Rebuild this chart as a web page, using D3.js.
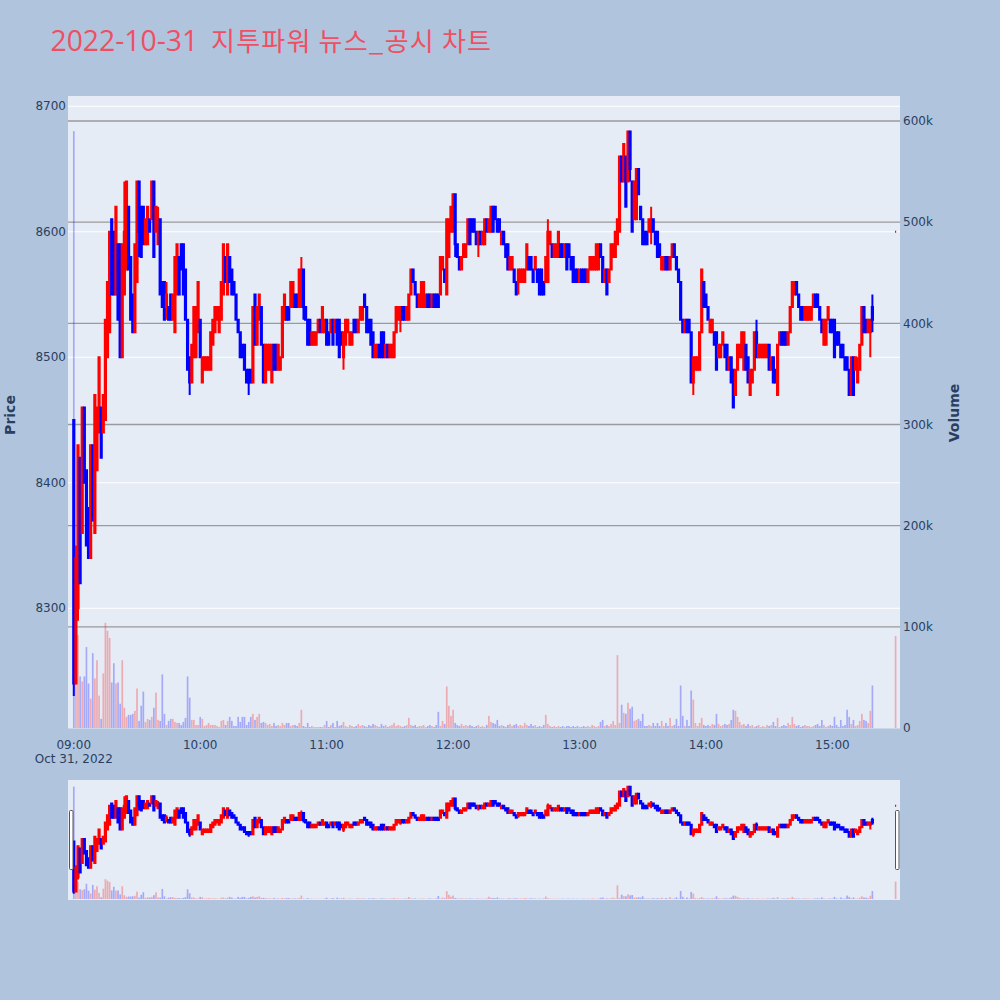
<!DOCTYPE html>
<html><head><meta charset="utf-8">
<script src="https://cdn.jsdelivr.net/npm/d3@7"></script>
<style>body{margin:0;background:#B0C4DE}svg{display:block}</style>
</head><body>
<svg id="chart" width="1000" height="1000"></svg>
<script>
// minutes after 09:00 (continuous session 09:00-15:19, closing auction 15:30)
const minuteOffsets = d3.range(380).concat([390]);
const opens = [
8450,8240,8300,8420,8360,8460,8410,8380,8340,8430,
8360,8410,8440,8460,8440,8450,8500,8520,8610,8600,
8550,8590,8590,8500,8550,8570,8620,8580,8550,8520,
8560,8640,8620,8620,8590,8590,8610,8610,8640,8600,
8590,8610,8560,8560,8540,8540,8550,8530,8520,8550,
8580,8590,8590,8570,8530,8500,8480,8500,8500,8520,
8530,8480,8490,8490,8490,8490,8510,8520,8530,8520,
8530,8550,8580,8550,8580,8570,8560,8550,8530,8520,
8510,8510,8490,8490,8490,8480,8550,8510,8530,8540,
8510,8480,8490,8490,8480,8510,8510,8490,8490,8500,
8530,8540,8540,8540,8540,8550,8550,8540,8540,8570,
8540,8530,8530,8510,8510,8510,8520,8530,8520,8520,
8530,8520,8520,8530,8520,8530,8530,8520,8500,8510,
8520,8510,8510,8530,8530,8520,8530,8530,8550,8540,
8530,8530,8520,8500,8500,8510,8520,8520,8500,8510,
8500,8500,8500,8520,8530,8530,8540,8540,8530,8530,
8550,8570,8560,8550,8540,8540,8540,8540,8550,8550,
8540,8550,8550,8550,8550,8570,8570,8550,8580,8600,
8600,8630,8590,8580,8570,8580,8580,8590,8610,8610,
8610,8600,8590,8600,8590,8590,8610,8600,8600,8620,
8620,8610,8610,8590,8600,8590,8590,8570,8570,8570,
8560,8560,8560,8560,8560,8570,8580,8580,8570,8570,
8570,8570,8570,8560,8560,8560,8590,8590,8580,8580,
8580,8590,8590,8580,8590,8590,8580,8580,8570,8570,
8560,8570,8570,8570,8560,8570,8570,8570,8570,8570,
8590,8580,8560,8570,8560,8570,8580,8580,8590,8600,
8660,8640,8660,8640,8680,8640,8610,8610,8650,8620,
8610,8600,8600,8600,8600,8610,8600,8600,8590,8570,
8570,8580,8580,8570,8580,8590,8580,8570,8560,8530,
8520,8530,8530,8520,8480,8490,8490,8490,8520,8560,
8550,8540,8520,8520,8520,8520,8500,8500,8510,8510,
8510,8490,8500,8490,8470,8490,8500,8500,8490,8510,
8500,8470,8480,8490,8520,8500,8500,8500,8500,8500,
8510,8490,8500,8490,8470,8510,8520,8520,8520,8510,
8520,8540,8550,8560,8550,8540,8540,8530,8530,8530,
8530,8540,8550,8550,8540,8530,8510,8510,8530,8530,
8530,8530,8520,8520,8510,8510,8500,8500,8490,8470,
8500,8490,8480,8490,8510,8540,8530,8520,8520,8540,
8600];
const highs = [
8450,8350,8430,8420,8460,8460,8410,8380,8430,8430,
8470,8460,8500,8460,8470,8530,8560,8600,8610,8600,
8620,8590,8590,8590,8640,8640,8620,8580,8550,8590,
8640,8640,8620,8620,8610,8620,8610,8640,8640,8620,
8620,8610,8560,8560,8560,8540,8550,8550,8580,8590,
8580,8590,8590,8570,8530,8500,8510,8540,8540,8560,
8530,8500,8500,8500,8500,8520,8530,8540,8540,8540,
8560,8590,8580,8590,8580,8570,8560,8550,8530,8520,
8510,8510,8490,8490,8490,8540,8550,8540,8550,8540,
8510,8510,8510,8510,8510,8510,8510,8510,8500,8540,
8550,8540,8540,8560,8560,8550,8550,8570,8580,8570,
8540,8530,8530,8520,8520,8520,8530,8530,8540,8530,
8530,8520,8530,8530,8530,8530,8530,8520,8520,8530,
8530,8520,8520,8530,8530,8530,8540,8540,8550,8540,
8530,8530,8520,8510,8510,8510,8520,8520,8510,8510,
8510,8510,8520,8540,8540,8540,8540,8540,8540,8550,
8570,8570,8560,8550,8550,8560,8560,8550,8550,8550,
8550,8550,8550,8550,8580,8580,8570,8610,8610,8620,
8630,8630,8590,8580,8580,8590,8590,8610,8610,8610,
8610,8600,8600,8600,8600,8610,8610,8610,8620,8620,
8620,8610,8610,8600,8600,8590,8590,8580,8580,8570,
8560,8570,8570,8570,8570,8590,8580,8580,8570,8580,
8570,8570,8570,8560,8580,8610,8600,8590,8590,8590,
8600,8590,8590,8590,8590,8590,8580,8580,8570,8570,
8570,8570,8570,8570,8570,8580,8580,8580,8590,8590,
8590,8580,8570,8570,8570,8590,8590,8600,8610,8660,
8660,8670,8660,8680,8680,8640,8640,8650,8650,8620,
8610,8600,8600,8610,8620,8610,8600,8600,8590,8580,
8580,8580,8580,8580,8590,8590,8580,8570,8560,8530,
8530,8530,8530,8520,8500,8500,8500,8520,8570,8560,
8550,8540,8530,8530,8520,8520,8510,8510,8520,8510,
8510,8500,8500,8490,8490,8510,8510,8520,8520,8510,
8500,8490,8490,8520,8530,8510,8510,8510,8510,8510,
8510,8500,8500,8490,8510,8520,8520,8520,8520,8520,
8540,8560,8560,8560,8550,8540,8540,8540,8540,8540,
8540,8550,8550,8550,8540,8530,8530,8530,8540,8530,
8530,8530,8520,8520,8510,8510,8500,8500,8490,8500,
8500,8500,8500,8510,8540,8540,8530,8530,8530,8550,
8600];
const lows = [
8230,8240,8290,8320,8360,8400,8350,8340,8340,8370,
8360,8410,8440,8420,8440,8450,8500,8520,8550,8550,
8550,8530,8500,8500,8550,8570,8570,8530,8520,8520,
8560,8580,8580,8590,8590,8590,8600,8610,8580,8600,
8590,8550,8540,8530,8530,8530,8530,8530,8520,8550,
8550,8570,8550,8530,8490,8470,8480,8500,8500,8520,
8500,8480,8490,8490,8490,8490,8510,8520,8530,8520,
8530,8550,8560,8550,8560,8550,8550,8530,8520,8500,
8500,8490,8480,8470,8480,8480,8510,8510,8530,8510,
8480,8480,8490,8490,8480,8490,8490,8490,8490,8500,
8530,8530,8530,8540,8540,8540,8540,8540,8540,8530,
8530,8510,8510,8510,8510,8510,8520,8520,8520,8520,
8510,8510,8520,8510,8520,8510,8500,8510,8490,8510,
8520,8510,8510,8520,8520,8520,8530,8530,8540,8520,
8520,8510,8500,8500,8500,8500,8500,8500,8500,8500,
8500,8500,8500,8520,8530,8520,8530,8530,8530,8530,
8550,8560,8550,8540,8540,8540,8540,8540,8540,8540,
8540,8540,8540,8540,8550,8570,8560,8550,8580,8600,
8600,8580,8580,8570,8570,8580,8580,8590,8590,8600,
8600,8590,8580,8590,8590,8590,8600,8600,8600,8600,
8610,8600,8600,8590,8590,8580,8570,8570,8570,8560,
8550,8550,8560,8560,8560,8570,8570,8570,8560,8570,
8560,8550,8550,8550,8560,8560,8590,8580,8580,8580,
8580,8580,8580,8580,8570,8580,8570,8560,8560,8560,
8560,8560,8560,8560,8560,8570,8570,8570,8570,8570,
8580,8560,8560,8550,8560,8570,8580,8580,8590,8600,
8640,8640,8620,8640,8640,8600,8610,8610,8630,8610,
8590,8590,8590,8600,8590,8600,8590,8580,8580,8570,
8570,8570,8570,8570,8580,8580,8570,8560,8530,8520,
8520,8520,8520,8480,8470,8490,8490,8490,8520,8540,
8540,8530,8520,8520,8510,8490,8500,8500,8510,8500,
8490,8490,8480,8460,8470,8490,8500,8500,8490,8490,
8480,8470,8480,8490,8500,8500,8500,8500,8500,8500,
8490,8490,8480,8480,8470,8510,8510,8510,8510,8510,
8520,8540,8550,8550,8540,8530,8530,8530,8530,8530,
8530,8540,8540,8540,8530,8520,8510,8510,8530,8520,
8520,8500,8510,8510,8500,8500,8490,8490,8470,8470,
8470,8490,8480,8490,8510,8520,8520,8520,8500,8520,
8600];
const closes = [
8240,8340,8430,8320,8460,8400,8350,8340,8430,8370,
8470,8460,8500,8420,8470,8530,8560,8600,8550,8550,
8620,8530,8500,8590,8600,8640,8570,8530,8520,8590,
8640,8600,8580,8590,8610,8620,8600,8640,8580,8620,
8610,8550,8540,8530,8550,8530,8530,8550,8580,8590,
8550,8570,8550,8530,8490,8480,8510,8540,8540,8560,
8500,8500,8500,8500,8500,8520,8530,8540,8540,8540,
8560,8590,8560,8590,8560,8550,8550,8530,8520,8500,
8500,8490,8480,8480,8480,8540,8510,8540,8550,8510,
8480,8510,8510,8510,8510,8490,8490,8510,8500,8540,
8550,8530,8530,8560,8560,8540,8540,8570,8570,8540,
8530,8510,8510,8520,8520,8520,8530,8520,8540,8530,
8510,8510,8530,8510,8530,8510,8500,8510,8520,8530,
8530,8520,8520,8520,8520,8530,8540,8540,8540,8520,
8520,8510,8500,8510,8510,8500,8500,8500,8510,8500,
8510,8510,8520,8540,8540,8540,8530,8530,8540,8550,
8570,8560,8550,8540,8550,8560,8560,8550,8540,8540,
8550,8540,8540,8540,8580,8580,8560,8610,8610,8620,
8630,8590,8580,8570,8580,8590,8590,8610,8590,8600,
8600,8590,8600,8590,8600,8610,8600,8610,8620,8600,
8610,8600,8600,8600,8590,8580,8570,8580,8580,8560,
8550,8570,8570,8570,8570,8590,8570,8570,8560,8580,
8560,8550,8550,8550,8580,8600,8600,8580,8590,8590,
8600,8580,8580,8590,8570,8580,8570,8560,8560,8560,
8570,8560,8560,8560,8570,8580,8580,8580,8590,8590,
8580,8560,8570,8550,8570,8590,8590,8600,8610,8660,
8640,8670,8620,8680,8650,8600,8640,8650,8630,8610,
8590,8590,8590,8610,8610,8600,8590,8580,8580,8580,
8580,8570,8570,8580,8590,8580,8570,8560,8530,8520,
8530,8520,8520,8480,8500,8500,8500,8520,8570,8540,
8540,8530,8530,8530,8510,8490,8510,8510,8520,8500,
8490,8500,8480,8460,8490,8510,8510,8520,8520,8490,
8480,8490,8490,8520,8500,8510,8510,8510,8510,8510,
8490,8500,8480,8480,8510,8520,8510,8510,8510,8520,
8540,8560,8560,8550,8540,8530,8530,8540,8540,8540,
8540,8550,8540,8540,8530,8520,8530,8530,8540,8520,
8520,8500,8510,8510,8500,8500,8490,8490,8470,8500,
8470,8500,8490,8510,8540,8520,8520,8530,8530,8530,
8600];
// volume in thousands of shares
const volumeK = [
590,44,92,51,46,51,80,44,29,74,
49,67,32,9,54,104,96,89,45,64,
44,45,24,67,20,11,13,13,14,17,
39,7,22,36,6,9,8,11,20,35,
8,7,53,14,3,7,9,9,6,5,
5,3,6,10,51,30,8,8,3,3,
11,9,2,3,5,3,3,3,2,1,
7,8,3,7,11,7,2,2,11,6,
11,11,3,6,11,14,8,11,14,5,
6,5,3,4,2,5,2,3,2,5,
3,5,5,2,3,3,2,5,18,2,
1,5,1,2,1,1,1,1,1,3,
7,1,3,5,1,7,2,3,6,2,
1,3,2,1,2,4,2,3,2,1,
3,2,4,3,2,1,4,2,3,1,
2,3,5,2,3,2,1,2,3,10,
3,2,3,1,2,2,3,1,2,3,
2,1,3,16,2,7,4,41,22,12,
18,5,3,2,4,2,3,2,3,2,
1,2,3,1,2,1,3,12,6,5,
4,8,2,3,2,1,3,4,2,3,
4,2,3,2,5,3,2,4,2,3,
1,2,1,3,13,4,2,1,2,1,
2,1,2,1,2,2,1,2,1,2,
1,1,2,1,2,1,3,2,1,2,
6,8,2,3,2,4,7,3,72,5,
23,15,14,25,19,21,7,8,9,7,
14,2,2,3,2,5,2,5,2,7,
2,5,2,10,2,3,9,2,42,12,
2,8,2,37,28,5,2,5,10,3,
2,3,2,4,3,14,4,2,3,4,
3,4,8,18,17,11,6,3,4,2,
4,2,3,1,2,3,1,2,1,3,
2,3,6,2,10,1,2,3,2,5,
3,11,4,2,3,1,2,3,2,2,
1,2,3,4,2,8,3,1,2,3,
2,11,3,1,8,2,3,18,11,4,
8,2,3,7,14,8,7,5,17,42,
91];
const priceTicks = [8300, 8400, 8500, 8600, 8700];
const volumeTicks = [0, 100, 200, 300, 400, 500, 600];
const titleDate = "2022-10-31";
const titleName = "지투파워 뉴스_공시 차트";

const UP = "#ff0000", DOWN = "#0000ff";
const base = new Date(2022, 9, 31, 9, 0, 0);
const data = minuteOffsets.map((m, i) => ({
  t: new Date(base.getTime() + m * 60000),
  o: opens[i], h: highs[i], l: lows[i], c: closes[i], v: volumeK[i]
}));
data.forEach((d, i) => {
  if (d.c > d.o) d.up = true;
  else if (d.c < d.o) d.up = false;
  else d.up = i > 0 ? d.c >= data[i - 1].c : true;
});

const svg = d3.select("#chart");
const L = 68, R = 900, T = 96, B = 728.5;
const x = d3.scaleTime()
  .domain([new Date(2022, 9, 31, 8, 57, 15), new Date(2022, 9, 31, 15, 32, 6)])
  .range([L, R]);
const y = d3.scaleLinear().domain([8204.2, 8708.2]).range([B, T]);
const yv = d3.scaleLinear().domain([0, 624.7]).range([728, T]);

// title
svg.append("text").attr("x", 50.5).attr("y", 51).attr("fill", "#EF4F63")
  .attr("font-family", "'Open Sans', sans-serif").attr("font-size", 28.3).text(titleDate);
svg.append("text").attr("x", 211).attr("y", 51).attr("fill", "#EF4F63")
  .attr("font-family", "'Noto Sans CJK KR', sans-serif").attr("font-size", 26)
  .attr("textLength", 280).attr("lengthAdjust", "spacing").text(titleName);

// plot background
svg.append("rect").attr("x", L).attr("y", T).attr("width", R - L).attr("height", B - T).attr("fill", "#E5ECF6");

const defs = svg.append("defs");
defs.append("clipPath").attr("id", "plotclip").append("rect").attr("x", L).attr("y", T).attr("width", R - L).attr("height", B - T);

// price grid (white)
svg.append("g").selectAll("line").data(priceTicks).join("line")
  .attr("x1", L).attr("x2", R).attr("y1", d => y(d)).attr("y2", d => y(d))
  .attr("stroke", "#fff").attr("stroke-width", 1);
// volume grid (gray)
svg.append("g").selectAll("line").data(volumeTicks.filter(v => v > 0)).join("line")
  .attr("x1", L).attr("x2", R).attr("y1", d => yv(d)).attr("y2", d => yv(d))
  .attr("stroke", "#9a9a9a").attr("stroke-width", 1.3);

function drawCandles(g, xs, ys, ysv, barW, bodyW) {
  g.append("g").selectAll("rect").data(data).join("rect")
    .attr("x", d => xs(d.t) - barW / 2).attr("width", barW)
    .attr("y", d => ysv(d.v)).attr("height", d => Math.max(0, ysv(0) - ysv(d.v)))
    .attr("fill", d => d.up ? UP : DOWN).attr("opacity", 0.28);
  g.append("g").selectAll("path").data(data).join("path")
    .attr("d", d => {
      const cx = xs(d.t), top = ys(Math.max(d.o, d.c)), bot = ys(Math.min(d.o, d.c));
      return `M${cx},${ys(d.h)}V${top}M${cx - bodyW / 2},${top}H${cx + bodyW / 2}V${bot}H${cx - bodyW / 2}ZM${cx},${bot}V${ys(d.l)}`;
    })
    .attr("stroke", d => d.up ? UP : DOWN).attr("fill", d => d.up ? UP : DOWN)
    .attr("stroke-width", 2);
}
const main = svg.append("g").attr("clip-path", "url(#plotclip)");
drawCandles(main, x, y, yv, 1.7, 1.2);

// axes labels
const tickFont = "'DejaVu Sans', Verdana, sans-serif";
const axisColor = "#2a3f5f";
svg.append("g").selectAll("text").data(priceTicks).join("text")
  .attr("x", 66).attr("y", d => y(d)).attr("dy", "0.35em").attr("text-anchor", "end")
  .attr("font-family", tickFont).attr("font-size", 12).attr("fill", axisColor).text(d => d);
svg.append("g").selectAll("text").data(volumeTicks).join("text")
  .attr("x", 903).attr("y", d => yv(d)).attr("dy", "0.35em").attr("text-anchor", "start")
  .attr("font-family", tickFont).attr("font-size", 12).attr("fill", axisColor)
  .text(d => d === 0 ? "0" : d + "k");
svg.append("g").selectAll("text").data(x.ticks(d3.timeHour.every(1))).join("text")
  .attr("x", d => x(d)).attr("y", 748.5).attr("text-anchor", "middle")
  .attr("font-family", tickFont).attr("font-size", 12).attr("fill", axisColor)
  .text(d3.timeFormat("%H:%M"));
svg.append("text").attr("x", x(base)).attr("y", 762.5).attr("text-anchor", "middle")
  .attr("font-family", tickFont).attr("font-size", 12).attr("fill", axisColor).text("Oct 31, 2022");
svg.append("text").attr("transform", "translate(14.5,415) rotate(-90)").attr("text-anchor", "middle")
  .attr("font-family", tickFont).attr("font-size", 14).attr("font-weight", "bold").attr("fill", axisColor).text("Price");
svg.append("text").attr("transform", "translate(958.5,413) rotate(-90)").attr("text-anchor", "middle")
  .attr("font-family", tickFont).attr("font-size", 14).attr("font-weight", "bold").attr("fill", axisColor).text("Volume");

// range slider
const RS_T = 780, RS_B = 900;
svg.append("rect").attr("x", L).attr("y", RS_T).attr("width", R - L).attr("height", RS_B - RS_T).attr("fill", "#E5ECF6");
defs.append("clipPath").attr("id", "rsclip").append("rect").attr("x", L).attr("y", RS_T).attr("width", R - L).attr("height", RS_B - RS_T);
const yr = d3.scaleLinear().domain(y.domain()).range([RS_B, RS_T]);
const yvr = d3.scaleLinear().domain(yv.domain()).range([RS_B - 1, RS_T]);
const rs = svg.append("g").attr("clip-path", "url(#rsclip)");
drawCandles(rs, x, yr, yvr, 1.7, 1.2);
[L + 1, R - 5].forEach(hx => {
  svg.append("rect").attr("x", hx + 0.5).attr("y", 810.5).attr("width", 3.5).attr("height", 59)
    .attr("rx", 1).attr("fill", "#fff").attr("stroke", "#555").attr("stroke-width", 1);
});
</script>
</body></html>
